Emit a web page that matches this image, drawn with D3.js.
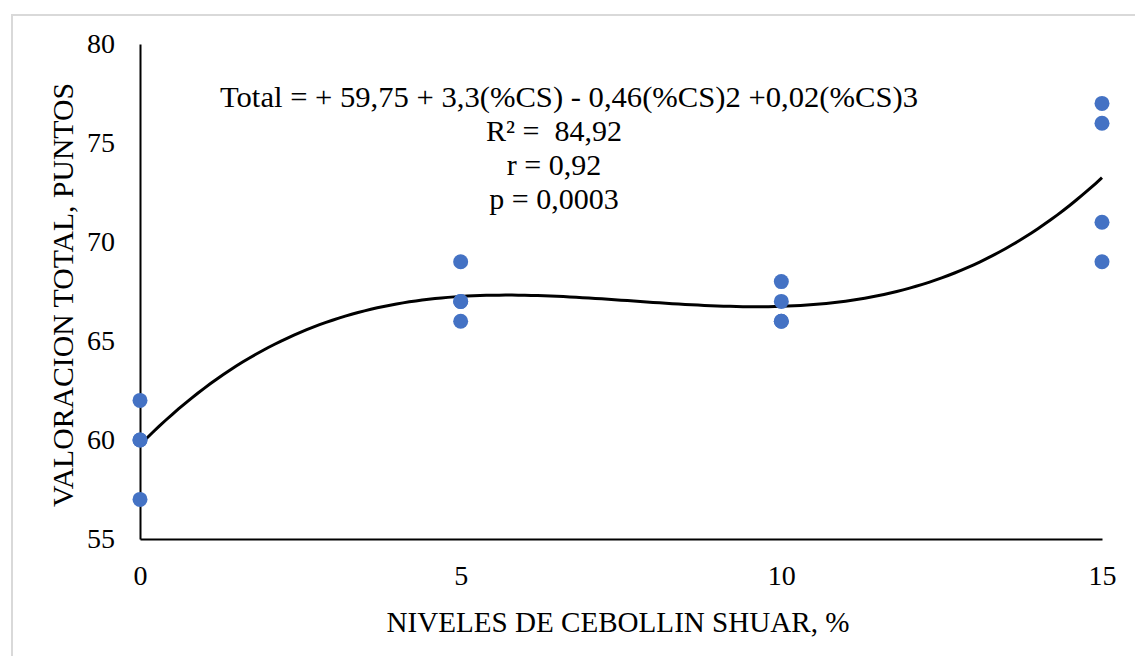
<!DOCTYPE html>
<html>
<head>
<meta charset="utf-8">
<script src="https://cdn.jsdelivr.net/npm/d3@7"></script>
<style>
  body { margin: 0; background: #fff; }
  text { font-family: "Liberation Serif", "Times New Roman", serif; fill: #000; }
</style>
</head>
<body>
<div id="container"></div>
<script>
/* DATA */
const levels = [0, 0, 0, 0, 5, 5, 5, 5, 10, 10, 10, 10, 15, 15, 15, 15];
const scores = [62, 60, 60, 57, 69, 67, 67, 66, 68, 67, 66, 66, 77, 76, 71, 69];
const xTicks = [0, 5, 10, 15];
const yTicks = [55, 60, 65, 70, 75, 80];
// trend coefficients from the equation label
const coef = [59.75, 3.3, -0.46, 0.02];
const labelLines = [
  "Total = + 59,75 + 3,3(%CS) - 0,46(%CS)2 +0,02(%CS)3",
  "R\u00B2 =  84,92",
  "r = 0,92",
  "p = 0,0003"
];

const width = 1135, height = 656;
const margin = { top: 44, left: 140, right: 33, bottom: 117 };

const svg = d3.select("#container").append("svg")
  .attr("width", width)
  .attr("height", height);

// outer frame
svg.append("rect")
  .attr("x", 12).attr("y", 15)
  .attr("width", width + 10).attr("height", height + 10)
  .attr("fill", "none")
  .attr("stroke", "#d9d9d9")
  .attr("stroke-width", 2);

const x = d3.scaleLinear().domain([0, 15]).range([margin.left, width - margin.right]);
const y = d3.scaleLinear().domain([55, 80]).range([height - margin.bottom, margin.top]);

// AXES
const xAxis = svg.append("g")
  .attr("transform", `translate(0,${y(55)})`)
  .call(d3.axisBottom(x).tickValues(xTicks).tickSize(0));
const yAxis = svg.append("g")
  .attr("transform", `translate(${x(0)},0)`)
  .call(d3.axisLeft(y).tickValues(yTicks).tickSize(0).tickPadding(25));

[xAxis, yAxis].forEach(g => {
  g.select(".domain").attr("stroke", "#000").attr("stroke-width", 2);
  g.selectAll("text").style("font-size", "28px").attr("fill", "#000");
});
xAxis.selectAll("text").attr("y", 46).attr("dy", 0);

// axis titles
svg.append("text")
  .attr("x", 618)
  .attr("y", 632)
  .attr("text-anchor", "middle")
  .attr("textLength", 463)
  .attr("lengthAdjust", "spacingAndGlyphs")
  .style("font-size", "29px")
  .text("NIVELES DE CEBOLLIN SHUAR, %");

svg.append("text")
  .attr("transform", "translate(73,295) rotate(-90)")
  .attr("text-anchor", "middle")
  .attr("textLength", 424)
  .attr("lengthAdjust", "spacingAndGlyphs")
  .style("font-size", "29px")
  .text("VALORACION TOTAL, PUNTOS");

// TREND LINE
const poly = v => coef[0] + coef[1] * v + coef[2] * v * v + coef[3] * v * v * v;
const curveX = d3.range(0, 15.001, 0.1);
svg.append("path")
  .datum(curveX)
  .attr("fill", "none")
  .attr("stroke", "#000")
  .attr("stroke-width", 3)
  .attr("d", d3.line().x(d => x(d)).y(d => y(poly(d))));

// POINTS
svg.selectAll("circle.pt")
  .data(levels)
  .join("circle")
  .attr("class", "pt")
  .attr("cx", d => x(d))
  .attr("cy", (d, i) => y(scores[i]))
  .attr("r", 7.5)
  .attr("fill", "#4472c4");

// equation label
const lbl = svg.append("text")
  .attr("text-anchor", "middle")
  .style("font-size", "30px")
  .style("white-space", "pre");
lbl.selectAll("tspan")
  .data(labelLines)
  .join("tspan")
  .attr("x", (d, i) => i === 0 ? 569 : 554)
  .attr("y", (d, i) => [107, 141, 175, 209][i])
  .attr("textLength", (d, i) => i === 0 ? 698 : null)
  .attr("lengthAdjust", "spacingAndGlyphs")
  .text(d => d);
</script>
</body>
</html>
